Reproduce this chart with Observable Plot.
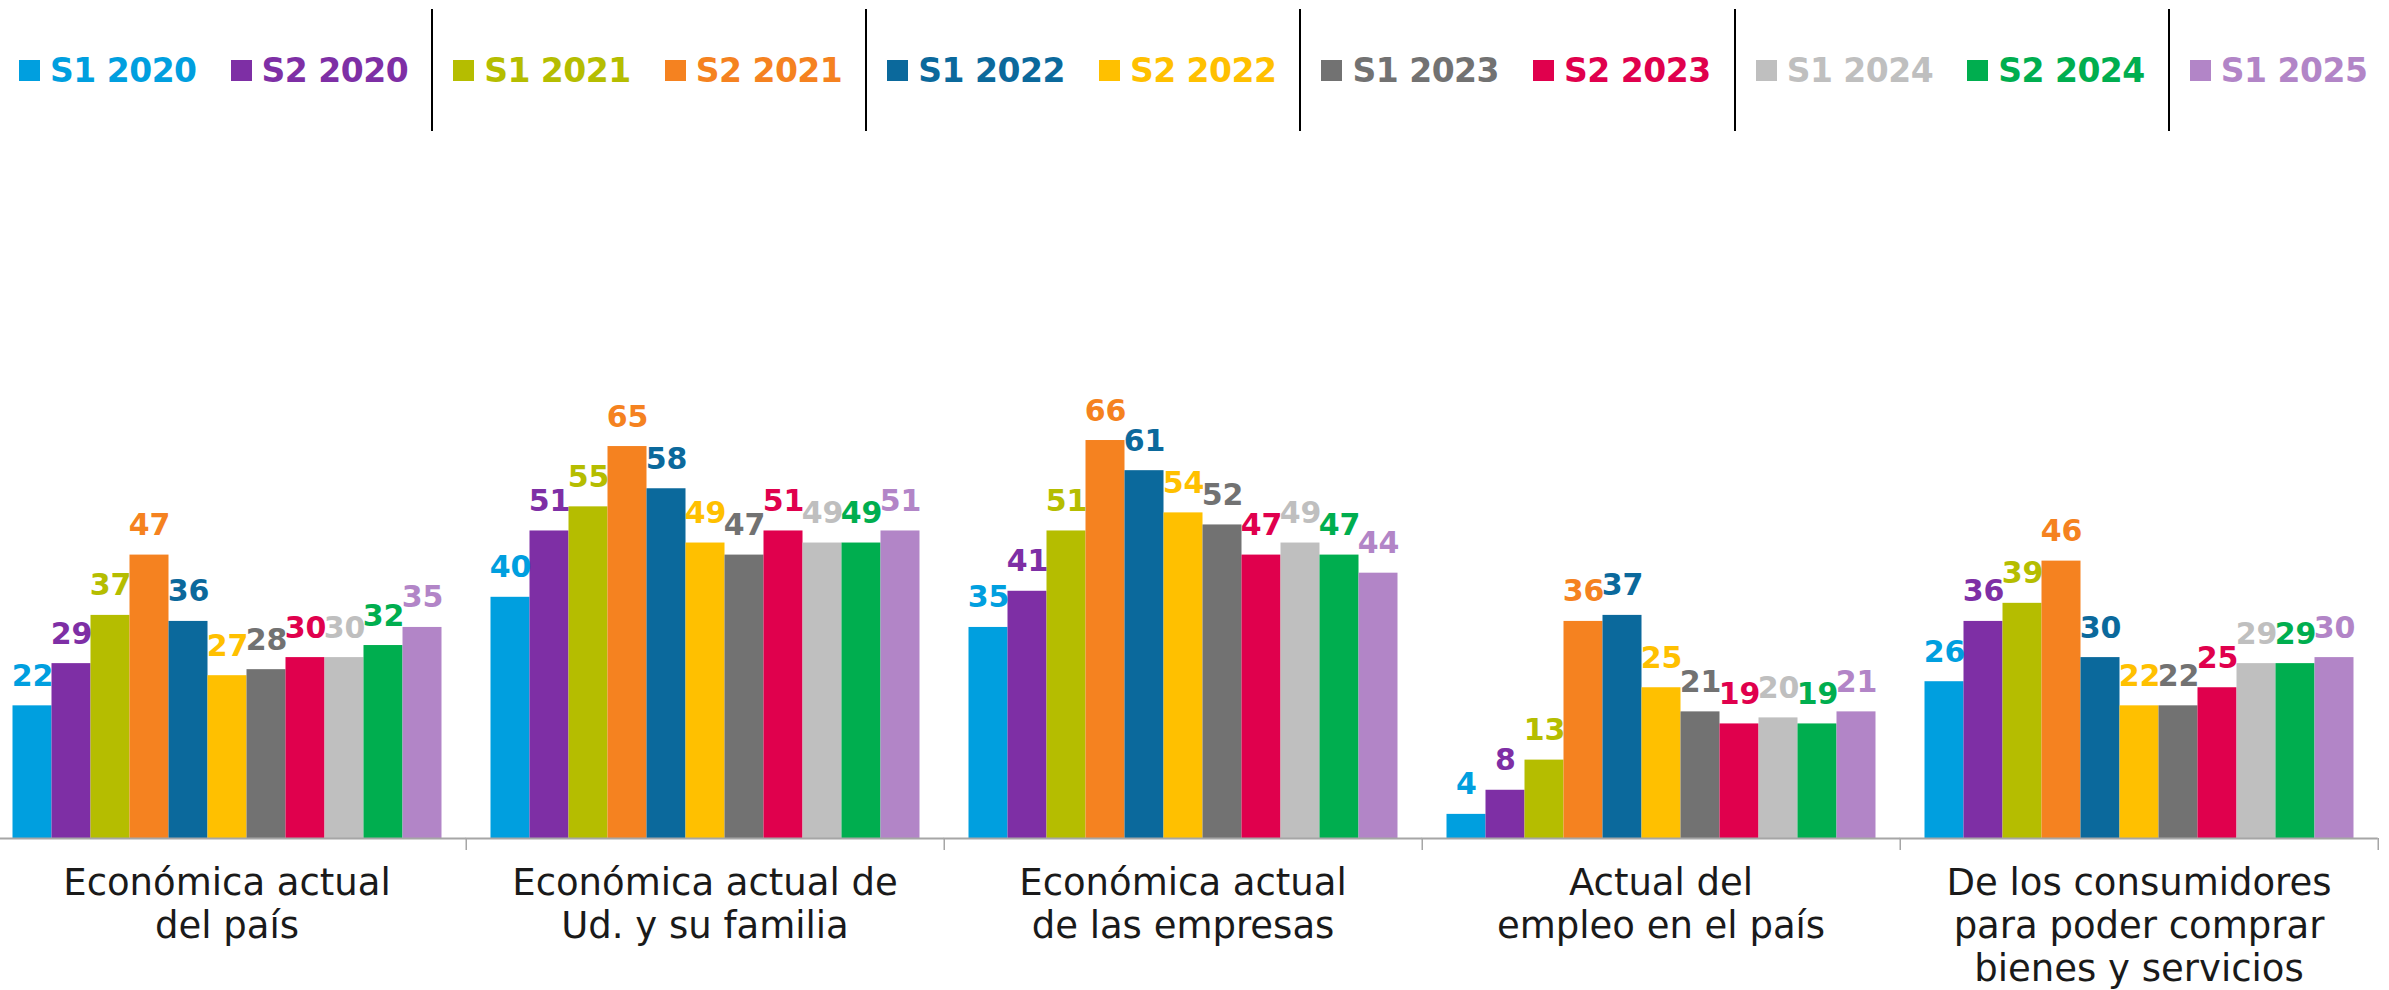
<!DOCTYPE html>
<html><head><meta charset="utf-8">
<script src="https://cdn.jsdelivr.net/npm/d3@7"></script>
<script src="https://cdn.jsdelivr.net/npm/@observablehq/plot@0.6"></script>
<style>
html,body{margin:0;padding:0;background:#fff;}
#legend{display:flex;align-items:center;height:140px;padding-left:19px;box-sizing:border-box;font-family:"DejaVu Sans";font-weight:bold;font-size:33px;letter-spacing:-0.5px;white-space:nowrap;}
.item{display:flex;align-items:center;gap:10px;}
.sw{width:21px;height:21px;flex:none;}
.gap{width:34px;flex:none;}
.sep{width:2px;height:122px;background:#000;margin:0 20px 0 23px;flex:none;}
#chart svg{display:block}
</style></head><body>
<div id="legend"></div><div id="chart"></div>
<script>
// Categories (x groups)
const categories = [
  "Económica actual del país",
  "Económica actual de Ud. y su familia",
  "Económica actual de las empresas",
  "Actual del empleo en el país",
  "De los consumidores para poder comprar bienes y servicios"
];
const categoryLabels = [
  "Económica actual\ndel país",
  "Económica actual de\nUd. y su familia",
  "Económica actual\nde las empresas",
  "Actual del\nempleo en el país",
  "De los consumidores\npara poder comprar\nbienes y servicios"
];
// Series (semesters)
const series = ["S1 2020","S2 2020","S1 2021","S2 2021","S1 2022","S2 2022","S1 2023","S2 2023","S1 2024","S2 2024","S1 2025"];
const colors = ["#009FDF","#7E2FA5","#B5BD00","#F58220","#0B699C","#FFC000","#727272","#E0004D","#BFBFBF","#00AE4F","#B285C7"];
// Values per series, in category order
const s1_2020 = [22, 40, 35, 4, 26];
const s2_2020 = [29, 51, 41, 8, 36];
const s1_2021 = [37, 55, 51, 13, 39];
const s2_2021 = [47, 65, 66, 36, 46];
const s1_2022 = [36, 58, 61, 37, 30];
const s2_2022 = [27, 49, 54, 25, 22];
const s1_2023 = [28, 47, 52, 21, 22];
const s2_2023 = [30, 51, 47, 19, 25];
const s1_2024 = [30, 49, 49, 20, 29];
const s2_2024 = [32, 49, 47, 19, 29];
const s1_2025 = [35, 51, 44, 21, 30];
const seriesValues = [s1_2020, s2_2020, s1_2021, s2_2021, s1_2022, s2_2022, s1_2023, s2_2023, s1_2024, s2_2024, s1_2025];

const data = [];
series.forEach((s, i) => categories.forEach((c, j) => data.push({cat: c, series: s, value: seriesValues[i][j]})));

// Legend
const legend = document.getElementById("legend");
series.forEach((s, i) => {
  if (i > 0) {
    const spacer = document.createElement("div");
    spacer.className = (i % 2 === 0) ? "sep" : "gap";
    legend.appendChild(spacer);
  }
  const item = document.createElement("div");
  item.className = "item";
  const sw = document.createElement("div");
  sw.className = "sw";
  sw.style.background = colors[i];
  const tx = document.createElement("span");
  tx.textContent = s;
  tx.style.color = colors[i];
  item.appendChild(sw); item.appendChild(tx);
  legend.appendChild(item);
});

// Chart
const W = 2389, H = 850, mL = -13.5, mR = 10, mT = 95, mB = 152;
const padIn = 0.0825;
const step = (W - mL - mR) / categories.length;
const halfGap = step * padIn / 2;
const labelOf = new Map(categories.map((c, i) => [c, categoryLabels[i]]));

const chart = Plot.plot({
  width: W, height: H,
  marginLeft: mL, marginRight: mR, marginTop: mT, marginBottom: mB,
  style: {fontFamily: "DejaVu Sans", background: "#fff"},
  fx: {domain: categories, paddingInner: padIn, paddingOuter: padIn / 2, axis: null, label: null},
  x: {domain: series, padding: 0, axis: null},
  y: {domain: [0, 100], axis: null},
  color: {domain: series, range: colors},
  marks: [
    Plot.barY(data, {fx: "cat", x: "series", y: "value", fill: "series"}),
    Plot.text(data, {fx: "cat", x: "series", y: "value", text: d => String(d.value), fill: "series",
      dy: -20, lineAnchor: "bottom", fontSize: 30, fontWeight: "bold"}),
    Plot.ruleY([0], {stroke: "#A6A6A6", strokeWidth: 2, insetLeft: -halfGap, insetRight: -halfGap}),
    Plot.axisFx({anchor: "bottom", label: null, tickSize: 0, tickPadding: 26, fontSize: 37, lineHeight: 1.16,
      color: "#1a1a1a", tickFormat: d => labelOf.get(d)}),
    Plot.axisFx({anchor: "bottom", label: null, ticks: categories, tickSize: 12, stroke: "#A6A6A6",
      strokeWidth: 1.5, tickFormat: () => "", dx: step / 2})
  ]
});
document.getElementById("chart").appendChild(chart);
</script>
</body></html>
